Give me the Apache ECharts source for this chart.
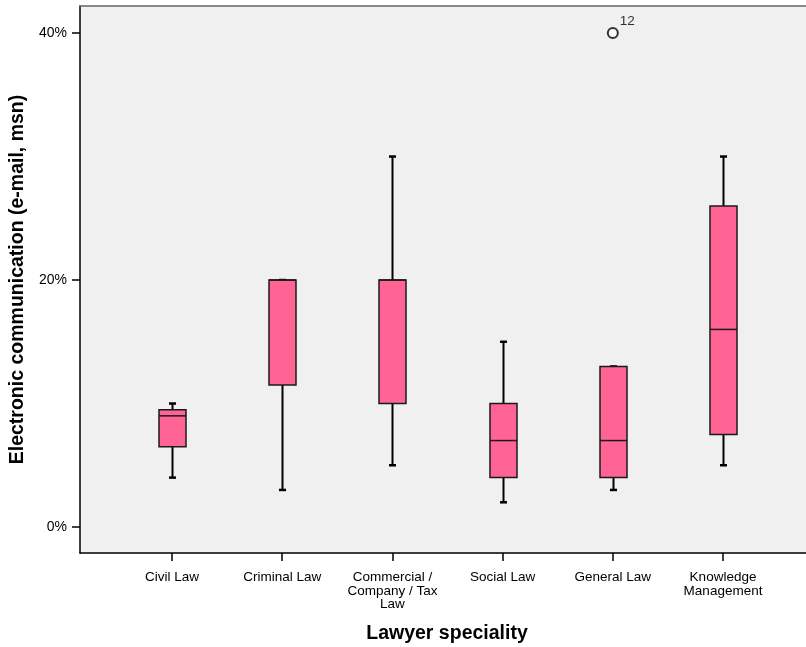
<!DOCTYPE html>
<html>
<head>
<meta charset="utf-8">
<script src="https://cdn.jsdelivr.net/npm/echarts@6/dist/echarts.min.js"></script>
<style>
  html, body { margin: 0; padding: 0; background: #ffffff; }
  #chart { width: 806px; height: 647px; }
</style>
</head>
<body>
<div id="chart"></div>
<script>
// Lawyer specialities on the category axis
var categories = ['Civil Law', 'Criminal Law', 'Commercial /\nCompany / Tax\nLaw', 'Social Law', 'General Law', 'Knowledge\nManagement'];

// Five-number summaries (percent): lower whisker, Q1, median, Q3, upper whisker
var whiskerLow = [4, 3, 5, 2, 3, 5];
var q1Values   = [6.5, 11.5, 10, 4, 4, 7.5];
var medians    = [9, 20, 20, 7, 7, 16];
var q3Values   = [9.5, 20, 20, 10, 13, 26];
var whiskerHigh = [10, 20, 30, 15, 13, 30];

// Outlying case (category index, value, case label)
var outlierCategory = [4];
var outlierValue = [40];
var outlierCase = ['12'];

// Y axis tick labels (percent)
var yTicks = [0, 20, 40];

var boxData = categories.map(function (c, i) {
  return [i, whiskerLow[i], q1Values[i], medians[i], q3Values[i], whiskerHigh[i]];
});
var outlierData = outlierCategory.map(function (c, i) {
  return { value: [c, outlierValue[i]], caseLabel: outlierCase[i] };
});

var FONT = '"Liberation Sans", Arial, sans-serif';
var BOX_W = 27;
var CAP_W = 7;

function renderBox(params, api) {
  var x = api.value(0);
  var pLow = api.coord([x, api.value(1)]);
  var pQ1 = api.coord([x, api.value(2)]);
  var pMed = api.coord([x, api.value(3)]);
  var pQ3 = api.coord([x, api.value(4)]);
  var pHigh = api.coord([x, api.value(5)]);
  var cx = Math.round(pQ1[0]) + 0.5;
  var half = BOX_W / 2;
  var wStyle = { stroke: '#000', lineWidth: 2 };
  var children = [
    { type: 'line', shape: { x1: cx, y1: pLow[1], x2: cx, y2: pQ1[1] }, style: wStyle },
    { type: 'line', shape: { x1: cx, y1: pQ3[1], x2: cx, y2: pHigh[1] }, style: wStyle },
    { type: 'line', shape: { x1: cx - CAP_W / 2, y1: pLow[1], x2: cx + CAP_W / 2, y2: pLow[1] }, style: { stroke: '#000', lineWidth: 2.5 } },
    { type: 'line', shape: { x1: cx - CAP_W / 2, y1: pHigh[1], x2: cx + CAP_W / 2, y2: pHigh[1] }, style: { stroke: '#000', lineWidth: 2.5 } },
    { type: 'rect', shape: { x: cx - half, y: pQ3[1], width: BOX_W, height: pQ1[1] - pQ3[1] },
      style: { fill: '#ff6495', stroke: '#1a1a1a', lineWidth: 1.5 } },
    { type: 'line', shape: { x1: cx - half, y1: pMed[1], x2: cx + half, y2: pMed[1] }, style: { stroke: '#1a1a1a', lineWidth: 1.5 } }
  ];
  return { type: 'group', children: children };
}

var chart = echarts.init(document.getElementById('chart'), null, { renderer: 'canvas' });
chart.setOption({
  animation: false,
  backgroundColor: '#ffffff',
  grid: {
    left: 80, right: 0, top: 6, bottom: 94,
    outerBoundsMode: 'none',
    containLabel: false,
    show: true, backgroundColor: '#f0f0f0', borderWidth: 0
  },
  xAxis: [{
    type: 'value',
    min: -0.835, max: 5.753,
    name: 'Lawyer speciality',
    nameLocation: 'middle',
    nameGap: 71,
    nameTextStyle: { fontFamily: FONT, fontSize: 19.5, fontWeight: 'bold', color: '#000', padding: [0, 0, 0, 8] },
    splitLine: { show: false },
    axisLine: { show: true, onZero: false, lineStyle: { color: '#000', width: 1.5 } },
    axisTick: { show: true, length: 8, customValues: [0, 1, 2, 3, 4, 5], lineStyle: { color: '#000', width: 1.5 } },
    axisLabel: {
      customValues: [0, 1, 2, 3, 4, 5],
      formatter: function (v) { return categories[Math.round(v)]; },
      fontFamily: FONT, fontSize: 13.5, color: '#000', lineHeight: 13.5, margin: 18,
      verticalAlign: 'top'
    }
  }, {
    type: 'value',
    position: 'top',
    min: -0.835, max: 5.753,
    splitLine: { show: false },
    axisLine: { show: true, onZero: false, lineStyle: { color: '#666', width: 1.5 } },
    axisTick: { show: false },
    axisLabel: { show: false }
  }],
  yAxis: {
    type: 'value',
    min: -2.105, max: 42.19,
    name: 'Electronic communication (e-mail, msn)',
    nameLocation: 'middle',
    nameGap: 50,
    nameTextStyle: { fontFamily: FONT, fontSize: 19.5, fontWeight: 'bold', color: '#000' },
    splitLine: { show: false },
    axisLine: { show: true, onZero: false, lineStyle: { color: '#000', width: 1.5 } },
    axisTick: { show: true, length: 8, customValues: yTicks, lineStyle: { color: '#000', width: 1.5 } },
    axisLabel: {
      customValues: yTicks,
      formatter: function (v) { return v + '%'; },
      fontFamily: FONT, fontSize: 14, color: '#000', margin: 13
    }
  },
  series: [{
    type: 'custom',
    renderItem: renderBox,
    encode: { x: 0, y: [1, 2, 3, 4, 5] },
    data: boxData,
    clip: false
  }, {
    type: 'scatter',
    symbol: 'emptyCircle',
    symbolSize: 10,
    itemStyle: { color: '#000', borderColor: '#000', borderWidth: 1.3 },
    label: {
      show: true,
      position: [13, -13],
      formatter: function (p) { return p.data.caseLabel; },
      fontFamily: FONT, fontSize: 13.5, color: '#000'
    },
    data: outlierData
  }]
});
</script>
</body>
</html>
